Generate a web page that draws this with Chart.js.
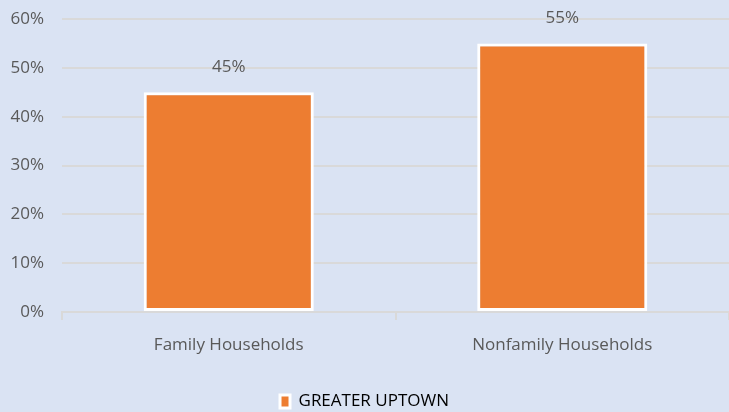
<!DOCTYPE html>
<html>
<head>
<meta charset="utf-8">
<script src="https://cdn.jsdelivr.net/npm/chart.js@4.4.0/dist/chart.umd.min.js"></script>
<style>
  html, body { margin: 0; padding: 0; background: #dae3f3; }
  #wrap { width: 729px; height: 412px; }
</style>
</head>
<body>
<div id="wrap"><canvas id="householdChart" width="729" height="412"></canvas></div>
<script>
// Household type share, Greater Uptown
const categories = ['Family Households', 'Nonfamily Households'];
const seriesName = 'GREATER UPTOWN';
const shareValues = [45, 55];
const yTicks = [0, 10, 20, 30, 40, 50, 60];

const orange = '#ed7d31';
const gridGray = '#d9d9d9';
const textGray = '#595959';
const fontFamily = '"Open Sans", "Noto Sans", sans-serif';

// simple value labels above each bar
const barLabels = {
    id: 'barLabels',
    afterDatasetsDraw(chart) {
        const ctx = chart.ctx;
        const meta = chart.getDatasetMeta(0);
        ctx.save();
        ctx.font = '17px ' + fontFamily;
        ctx.fillStyle = textGray;
        ctx.textAlign = 'center';
        ctx.textBaseline = 'middle';
        meta.data.forEach((bar, i) => {
            ctx.fillText(shareValues[i] + '%', bar.x, bar.y - 25);
        });
        ctx.restore();
    }
};

new Chart(document.getElementById('householdChart'), {
    type: 'bar',
    data: {
        labels: categories,
        datasets: [{
            label: seriesName,
            data: shareValues,
            backgroundColor: orange,
            borderColor: '#ffffff',
            borderWidth: 3,
            borderSkipped: false,
            categoryPercentage: 1,
            barPercentage: 0.51
        }]
    },
    options: {
        responsive: false,
        animation: false,
        layout: { padding: { top: 0, right: 0, left: 0, bottom: -8 } },
        plugins: {
            tooltip: { enabled: false },
            legend: {
                position: 'bottom',
                labels: {
                    color: '#000000',
                    font: { family: fontFamily, size: 17 },
                    boxWidth: 10,
                    boxHeight: 13,
                    padding: 0
                }
            }
        },
        scales: {
            y: {
                min: 0,
                max: 60,
                afterBuildTicks: axis => { axis.ticks = yTicks.map(v => ({ value: v })); },
                afterFit: axis => {
                    axis.width = 62;
                    axis.paddingTop = 19;
                    axis.paddingBottom = 0;
                },
                ticks: {
                    color: textGray,
                    font: { family: fontFamily, size: 17 },
                    padding: 18,
                    callback: v => v + '%'
                },
                grid: { color: gridGray, lineWidth: 2, drawTicks: false },
                border: { display: false }
            },
            x: {
                afterFit: axis => { axis.height = 81; },
                ticks: {
                    color: textGray,
                    font: { family: fontFamily, size: 17 },
                    padding: 15
                },
                grid: {
                    offset: true,
                    drawOnChartArea: false,
                    color: gridGray,
                    lineWidth: 2,
                    tickLength: 8
                },
                border: { display: true, color: gridGray, width: 2 }
            }
        }
    },
    plugins: [barLabels]
});
</script>
</body>
</html>
